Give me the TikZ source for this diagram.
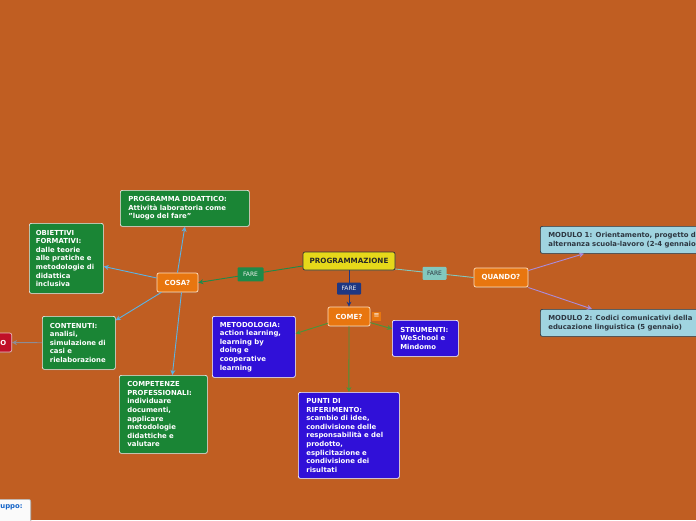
\documentclass[tikz,border=0pt]{standalone}
\usepackage{fontspec}
\setmainfont{DejaVu Sans}
\usetikzlibrary{arrows.meta,shadows}
\definecolor{bg}{RGB}{192,94,34}
\definecolor{boxgreen}{RGB}{26,133,53}
\definecolor{boxblue}{RGB}{48,16,216}
\definecolor{orangenode}{RGB}{232,118,15}
\definecolor{yellownode}{RGB}{230,216,26}
\definecolor{lightbluebox}{RGB}{160,212,224}
\definecolor{rednode}{RGB}{192,16,40}
\definecolor{darktext}{RGB}{45,55,65}
\definecolor{cosaline}{RGB}{90,180,230}
\definecolor{comeline}{RGB}{70,150,60}
\definecolor{quandoline}{RGB}{170,140,220}
\definecolor{faregreen}{RGB}{30,138,74}
\definecolor{fareteal}{RGB}{130,200,190}
\definecolor{fareblue}{RGB}{30,55,130}
\definecolor{grayline}{RGB}{140,140,150}
\definecolor{linkblue}{RGB}{20,100,200}
\begin{document}
\begin{tikzpicture}[x=1pt,y=-1pt,
  base/.style={rounded corners=2pt, line width=0.7pt, align=left, inner xsep=8pt, inner ysep=2pt,
    font=\fontsize{6.9}{8.6}\selectfont\bfseries,
    drop shadow={shadow xshift=0.6pt, shadow yshift=-1pt, opacity=0.3}},
  gbox/.style={base, fill=boxgreen, draw=white!85!gray, text=white, anchor=north west},
  bbox/.style={base, fill=boxblue, draw=white, text=white, anchor=north west},
  lbox/.style={base, fill=lightbluebox, draw=darktext, text=darktext, anchor=north west},
  obox/.style={rounded corners=2pt, fill=orangenode, draw=white!75!orange, line width=0.7pt,
    text=white, font=\fontsize{7}{8}\selectfont\bfseries, inner sep=0pt, minimum height=19pt,
    drop shadow={shadow xshift=0.6pt, shadow yshift=-1pt, opacity=0.3}},
  farelbl/.style={rounded corners=1pt, inner sep=0pt, text=white!88!gray,
    font=\fontsize{6}{6}\selectfont},
  arr/.style={-{Stealth[length=5pt,width=5pt]}, line width=0.9pt},
]
\fill[bg] (0,0) rectangle (696,520);
\useasboundingbox (0,0) rectangle (696,520);

% central node
\node[rounded corners=2pt, fill=yellownode, draw=black!80, line width=0.7pt, text=black!85,
  font=\fontsize{7.2}{8}\selectfont\bfseries, minimum width=92pt, minimum height=18pt, inner sep=0pt,
  drop shadow={shadow xshift=0.6pt, shadow yshift=-1pt, opacity=0.3}]
  (prog) at (349,261) {PROGRAMMAZIONE};

% orange nodes
\node[obox, minimum width=41pt] (cosa) at (177.5,282.5) {COSA?};
\node[obox, minimum width=42pt] (come) at (349,316.5) {COME?};
\node[obox, minimum width=54pt] (quando) at (501,277.5) {QUANDO?};
\node[fill=orangenode, minimum size=9pt, inner sep=0pt, text=white,
  font=\fontsize{7}{7}\selectfont] (menu) at (376.5,316) {≡};

% green boxes
\node[gbox, text width=113pt, minimum height=36pt] (pd) at (120,190)
  {PROGRAMMA DIDATTICO:\\Attività laboratoria come\\"luogo del fare"};
\node[gbox, text width=61pt, inner xsep=6.5pt, minimum height=70pt] (ob) at (29,223)
  {OBIETTIVI\\FORMATIVI:\\dalle teorie\\alle pratiche e\\metodologie di\\didattica\\inclusiva};
\node[gbox, text width=58pt, inner xsep=7.5pt, minimum height=53pt] (cont) at (42,316)
  {CONTENUTI:\\analisi,\\simulazione di\\casi e\\rielaborazione};
\node[gbox, text width=72pt, minimum height=78pt] (comp) at (119,375)
  {COMPETENZE\\PROFESSIONALI:\\individuare\\documenti,\\applicare\\metodologie\\didattiche e\\valutare};

% blue boxes
\node[bbox, text width=68pt, inner xsep=7.5pt, minimum height=61pt] (met) at (212,316)
  {METODOLOGIA:\\action learning,\\learning by\\doing e\\cooperative\\learning};
\node[bbox, text width=50pt, minimum height=36pt] (str) at (392,320)
  {STRUMENTI:\\WeSchool e\\Mindomo};
\node[bbox, text width=85pt, minimum height=86pt] (punti) at (298,392)
  {PUNTI DI\\RIFERIMENTO:\\scambio di idee,\\condivisione delle\\responsabilità e del\\prodotto,\\esplicitazione e\\condivisione dei\\risultati};

% light blue boxes
\node[lbox, text width=160pt, minimum height=27pt] (m1) at (540,226)
  {MODULO 1: Orientamento, progetto di\\alternanza scuola-lavoro (2-4 gennaio)};
\node[lbox, text width=160pt, minimum height=27pt] (m2) at (540,309)
  {MODULO 2: Codici comunicativi della\\educazione linguistica (5 gennaio)};

% partially visible nodes
\node[base, fill=rednode, draw=white!70!rednode, text=white, text width=40pt, align=right,
  inner xsep=5.5pt, minimum height=19pt, anchor=east] (red) at (12,342.5) {O};
\node[base, fill=white!96!gray, draw=gray!60, text=linkblue, text width=60pt, align=right,
  anchor=north east, text depth=20pt, inner ysep=5pt] (grp) at (31,499) {ruppo:};

% connectors
\draw[arr, faregreen] ([yshift=-5pt]prog.west) -- node[farelbl, fill=faregreen, minimum width=26pt, minimum height=14pt] (f1) {FARE} (cosa.east);
\draw[line width=0.9pt, fareteal] ([yshift=-8pt]prog.east) -- node[farelbl, fill=fareteal, text=darktext, minimum width=24pt, minimum height=13pt] (f2) {FARE} (quando.west);
\draw[arr, fareblue] (prog.south) -- node[farelbl, fill=fareblue, minimum width=24pt, minimum height=12pt] (f3) {FARE} (come.north);

\draw[arr, cosaline] (cosa.north) -- (pd.south);
\draw[arr, cosaline] (cosa) -- (ob);
\draw[arr, cosaline] (cosa) -- (cont);
\draw[arr, cosaline] ([xshift=4pt]cosa.south) -- ([xshift=9pt]comp.north);
\draw[arr, grayline] (cont) -- (red);

\draw[arr, comeline] (come) -- (met);
\draw[arr, comeline] (come) -- (str);
\draw[arr, comeline] (come) -- (punti);

\draw[arr, quandoline] ([yshift=7pt]quando.east) -- ([xshift=44pt]m1.south west);
\draw[arr, quandoline] ([yshift=-10pt]quando.east) -- ([xshift=52pt]m2.north west);
\end{tikzpicture}
\end{document}
